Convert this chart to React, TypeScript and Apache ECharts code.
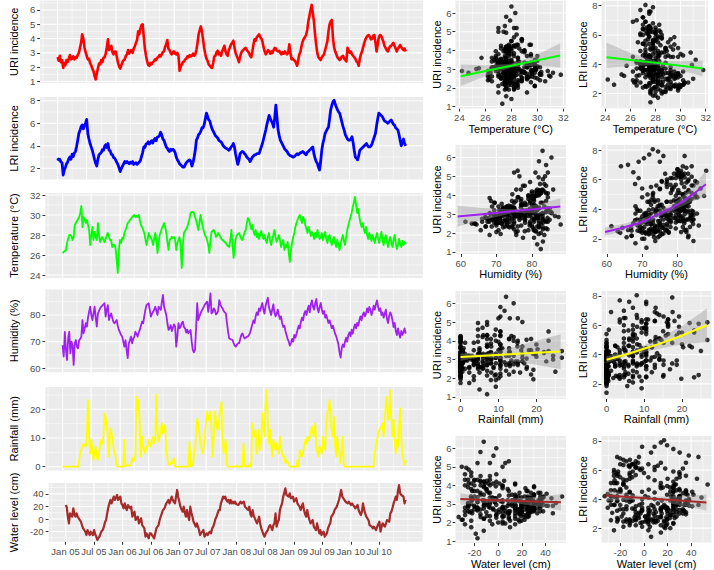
import React, { useEffect, useRef } from "react";
import * as echarts from "echarts";

// ---------------- weekly data, Jan 2005 - Dec 2010 (312 weeks) ----------------
const uriIncidence = [
  2.7, 2.45, 2.8, 2.35, 2.5, 1.95, 2.3, 2.15, 2.5, 2.35, 2.6, 2.85, 2.55,
  2.6, 2.75, 2.55, 2.7, 2.65, 2.85, 3.0, 3.35, 3.7, 4.3, 4.0, 3.4, 3.05,
  2.8, 2.55, 2.6, 2.3, 2.15, 1.9, 1.75, 1.4, 1.15, 1.55, 1.9, 2.25, 2.2,
  2.5, 2.35, 2.65, 2.7, 2.95, 3.4, 3.95, 3.2, 3.35, 3.5, 3.05, 2.9, 3.1,
  3.1, 2.7, 2.3, 2.05, 1.9, 2.15, 2.35, 2.5, 2.55, 2.8, 2.9, 3.2, 2.95,
  3.15, 3.2, 3.0, 3.3, 3.45, 3.7, 3.9, 4.5, 4.3, 4.7, 4.95, 5.0, 4.1,
  3.3, 2.8, 2.4, 2.15, 2.1, 2.3, 2.2, 2.35, 2.4, 2.55, 2.5, 2.65, 2.7,
  2.85, 2.75, 2.9, 3.05, 3.1, 3.4, 3.6, 3.9, 3.3, 3.2, 3.0, 2.9, 3.05,
  3.1, 2.95, 2.9, 3.0, 2.8, 1.75, 2.05, 2.2, 2.35, 2.4, 2.55, 2.6, 2.75,
  2.7, 2.85, 2.75, 2.8, 2.95, 2.8, 2.9, 3.2, 3.7, 4.3, 4.6, 4.85, 4.5,
  3.9, 3.3, 2.9, 2.6, 2.45, 2.2, 2.1, 2.0, 1.95, 2.3, 2.75, 2.8, 3.05,
  3.15, 2.9, 3.0, 2.8, 3.1, 3.3, 3.5, 3.1, 2.9, 2.8, 3.2, 3.4, 3.6,
  3.7, 3.85, 3.4, 3.0, 2.8, 2.6, 2.35, 2.7, 3.0, 3.15, 3.2, 3.3, 3.35,
  3.2, 3.1, 3.0, 2.8, 2.7, 3.1, 3.6, 3.95, 3.85, 4.1, 4.2, 4.3, 4.1,
  4.0, 3.8, 3.4, 3.1, 2.9, 3.05, 3.2, 3.1, 2.95, 3.1, 3.0, 3.2, 3.35,
  3.3, 3.15, 3.1, 3.15, 3.0, 2.9, 3.05, 2.95, 3.1, 3.0, 2.9, 3.0, 3.6,
  3.0, 2.55, 2.6, 2.5, 2.45, 2.3, 2.1, 2.5, 2.9, 3.1, 3.5, 3.8, 4.0,
  4.1, 4.25, 4.6, 5.2, 5.6, 6.0, 6.35, 5.8, 5.2, 4.3, 3.6, 3.0, 2.7,
  2.6, 2.5, 2.7, 2.8, 2.9, 3.2, 3.5, 3.8, 4.5, 5.0, 5.2, 5.3, 4.05,
  3.4, 3.1, 2.9, 2.7, 2.6, 2.5, 2.6, 2.75, 2.8, 2.6, 2.5, 2.4, 3.35,
  3.2, 3.0, 3.1, 2.9, 2.8, 2.7, 2.6, 2.4, 2.35, 2.1, 2.6, 2.9, 3.1,
  3.4, 3.7, 3.95, 4.1, 4.2, 4.25, 4.1, 3.95, 4.0, 4.2, 4.25, 3.7, 3.1,
  3.6, 4.1, 4.25, 4.2, 4.0, 3.8, 3.5, 3.35, 3.2, 3.1, 3.3, 3.45, 3.5,
  3.6, 3.7, 3.5, 3.3, 3.1, 3.3, 3.4, 3.55, 3.4, 3.3, 3.2, 3.3, 3.1,
];

const lriIncidence = [
  2.9, 2.75, 2.8, 2.55, 2.5, 1.4, 1.85, 2.1, 2.4, 2.55, 2.85, 3.0, 2.8,
  3.25, 3.05, 3.35, 3.5, 3.95, 4.5, 5.1, 5.35, 5.7, 5.85, 5.5, 5.75, 6.0,
  6.35, 5.1, 4.6, 4.2, 3.9, 3.6, 3.2, 2.8, 2.45, 2.2, 2.8, 3.2, 3.3,
  3.4, 3.65, 3.6, 3.95, 4.1, 3.85, 4.2, 3.6, 3.55, 3.25, 3.2, 2.95, 2.9,
  2.7, 2.5, 2.3, 2.0, 1.7, 2.0, 2.2, 2.4, 2.6, 2.5, 2.6, 2.5, 2.4,
  2.55, 2.45, 2.6, 2.35, 2.45, 2.5, 2.35, 2.45, 2.55, 2.7, 3.05, 3.4, 3.9,
  3.85, 4.15, 4.2, 4.35, 4.15, 4.3, 4.45, 4.25, 4.5, 4.65, 4.45, 4.75, 4.8,
  4.9, 5.2, 5.0, 4.6, 4.5, 4.2, 3.9, 3.8, 3.6, 3.5, 3.7, 3.6, 3.7,
  3.6, 3.4, 3.0, 2.75, 2.6, 2.4, 2.3, 2.2, 2.1, 2.1, 2.3, 2.5, 2.6,
  2.7, 2.75, 2.6, 2.2, 2.5, 3.0, 3.6, 4.5, 4.7, 5.0, 5.1, 5.3, 5.6,
  5.6, 5.9, 6.4, 6.9, 6.6, 6.3, 6.2, 5.8, 5.5, 5.3, 5.1, 4.9, 4.8,
  4.7, 4.5, 4.4, 4.35, 4.2, 4.0, 3.9, 3.8, 3.75, 3.7, 3.6, 3.7, 3.9,
  4.0, 4.2, 3.9, 3.3, 2.8, 2.35, 2.7, 3.3, 3.4, 3.5, 3.45, 3.3, 3.2,
  3.0, 2.9, 2.8, 2.6, 2.8, 3.0, 3.1, 3.2, 3.2, 3.3, 3.3, 3.3, 3.6,
  3.9, 4.2, 4.6, 5.0, 5.4, 5.9, 6.3, 6.7, 6.4, 6.2, 6.0, 5.65, 6.5,
  7.6, 6.5, 5.4, 4.9, 4.5, 4.3, 4.1, 3.9, 3.7, 3.6, 3.5, 3.3, 3.2,
  3.1, 3.1, 3.0, 3.0, 3.1, 3.2, 3.3, 3.2, 3.3, 3.4, 3.4, 3.5, 3.4,
  3.3, 3.2, 3.4, 3.5, 3.6, 3.7, 3.8, 3.9, 3.3, 2.9, 2.6, 2.45, 2.1,
  1.85, 2.6, 3.6, 4.2, 4.6, 5.1, 5.3, 5.5, 5.65, 6.4, 7.2, 7.6, 7.9,
  8.05, 7.7, 7.45, 7.2, 7.0, 6.9, 6.5, 6.1, 5.7, 5.4, 5.0, 4.8, 4.6,
  4.5, 4.5, 4.6, 4.8, 4.3, 3.6, 3.0, 2.9, 2.75, 3.1, 3.6, 3.7, 3.8,
  3.9, 4.0, 4.1, 4.2, 4.0, 3.9, 3.9, 4.0, 4.2, 4.5, 4.8, 5.1, 5.8,
  6.4, 6.9, 6.8, 6.7, 6.6, 6.4, 6.2, 6.15, 6.1, 6.0, 6.1, 6.2, 6.3,
  6.1, 5.9, 5.85, 5.6, 5.5, 5.4, 5.0, 4.5, 4.0, 4.3, 4.6, 4.2, 4.0,
];

const temperature = [
  26.2, 26.3, 26.4, 26.5, 27.2, 27.6, 28.0, 28.0, 27.9, 27.5, 27.8, 29.0, 29.2,
  29.4, 29.6, 29.8, 30.2, 30.9, 28.8, 29.8, 29.5, 29.2, 29.5, 29.0, 28.5, 27.0,
  28.0, 28.8, 27.5, 28.3, 27.8, 27.5, 29.2, 28.0, 27.3, 27.6, 27.8, 27.5, 27.3,
  27.6, 28.0, 28.2, 27.8, 27.5, 27.5, 26.8, 27.0, 27.0, 26.7, 25.5, 24.2, 26.5,
  27.5, 27.2, 27.7, 27.6, 28.2, 28.5, 28.8, 29.2, 29.3, 29.5, 29.6, 29.8, 29.9,
  30.0, 29.8, 29.9, 29.8, 30.0, 29.5, 29.0, 28.8, 28.5, 28.2, 27.6, 27.0, 27.5,
  28.2, 27.9, 27.7, 27.5, 27.0, 27.6, 28.2, 27.5, 26.2, 27.2, 28.0, 28.3, 28.7,
  28.9, 29.2, 28.8, 28.2, 27.3, 26.5, 27.5, 27.6, 27.8, 27.7, 27.8, 27.5, 26.5,
  27.2, 27.5, 27.8, 26.8, 24.7, 27.0, 28.2, 28.4, 28.6, 28.8, 29.2, 29.6, 30.2,
  30.3, 30.3, 30.2, 29.8, 29.5, 29.0, 28.5, 29.2, 30.0, 29.4, 28.8, 28.4, 28.0,
  27.8, 27.5, 27.0, 26.2, 27.5, 28.3, 28.4, 28.5, 28.2, 27.8, 28.0, 28.2, 28.0,
  27.8, 27.6, 27.5, 27.4, 27.3, 27.2, 27.0, 26.9, 26.8, 27.5, 28.5, 27.0, 25.7,
  26.8, 27.7, 28.0, 28.1, 28.2, 27.9, 27.6, 27.5, 27.9, 28.3, 28.5, 29.2, 29.7,
  29.5, 29.0, 28.6, 29.0, 28.4, 28.0, 28.5, 27.8, 28.2, 27.6, 28.0, 28.4, 27.9,
  27.6, 28.0, 27.5, 27.2, 27.8, 28.2, 27.5, 27.0, 27.6, 28.0, 28.5, 27.8, 27.3,
  27.6, 28.0, 27.5, 26.8, 27.2, 27.5, 26.5, 27.0, 26.8, 27.3, 26.2, 25.3, 26.5,
  27.2, 27.8, 28.2, 28.8, 29.2, 29.5, 29.8, 30.0, 29.6, 29.2, 29.8, 29.5, 29.0,
  28.6, 28.2, 28.8, 28.4, 27.9, 28.3, 28.0, 27.6, 28.2, 27.8, 28.5, 28.0, 27.6,
  27.8, 28.2, 27.5, 27.9, 28.3, 27.6, 27.2, 27.8, 28.0, 27.4, 27.0, 27.5, 27.8,
  27.2, 26.8, 27.5, 27.0, 26.5, 27.2, 27.6, 28.0, 27.4, 27.0, 27.8, 28.5, 29.0,
  29.4, 29.8, 30.2, 30.8, 31.2, 31.8, 31.0, 30.2, 30.6, 29.8, 29.2, 28.8, 29.2,
  28.6, 28.2, 28.8, 28.0, 27.6, 28.2, 27.8, 27.4, 28.0, 27.6, 27.2, 27.8, 28.2,
  27.6, 27.2, 27.8, 28.3, 27.5, 27.0, 27.6, 28.0, 27.3, 26.8, 27.4, 27.8, 27.2,
  26.8, 27.5, 28.0, 27.2, 26.6, 27.0, 27.6, 27.2, 26.8, 27.4, 27.0, 27.3, 27.1,
];

const humidity = [
  68.7, 64.4, 73.7, 67.0, 63.1, 71.2, 73.7, 65.6, 70.0, 68.7, 61.3, 69.4, 70.6,
  68.0, 67.5, 70.6, 71.0, 71.9, 78.1, 73.1, 75.0, 76.9, 75.6, 79.0, 81.2, 83.1,
  80.0, 78.1, 80.6, 83.1, 79.0, 75.6, 80.6, 81.5, 82.5, 83.1, 83.5, 84.0, 84.4,
  79.4, 82.0, 83.7, 78.1, 79.5, 80.6, 79.0, 77.5, 76.9, 77.5, 78.1, 76.0, 74.4,
  73.5, 72.5, 71.9, 70.0, 68.1, 70.6, 67.0, 63.8, 69.4, 70.5, 71.9, 69.4, 71.0,
  71.9, 73.7, 72.8, 71.9, 73.5, 74.4, 76.0, 77.5, 76.9, 79.5, 81.9, 83.7, 84.0,
  84.4, 81.9, 79.4, 80.5, 81.2, 82.0, 83.1, 81.5, 80.0, 83.1, 82.5, 81.9, 85.0,
  87.5, 83.1, 81.5, 80.0, 76.9, 74.4, 75.0, 76.2, 74.0, 75.3, 76.5, 75.6, 68.1,
  72.0, 76.9, 75.0, 75.6, 77.0, 77.5, 75.5, 75.0, 73.4, 74.5, 73.1, 73.8, 74.4,
  70.0, 66.9, 66.0, 67.0, 75.0, 84.4, 78.1, 79.5, 80.6, 81.5, 82.3, 83.1, 84.0,
  84.5, 85.0, 81.2, 84.0, 88.1, 80.6, 81.0, 82.5, 81.9, 80.2, 80.6, 81.6, 85.6,
  84.0, 83.0, 82.5, 81.5, 81.0, 80.6, 77.0, 73.7, 71.2, 71.0, 70.8, 70.6, 69.5,
  68.5, 68.1, 68.8, 69.4, 69.4, 71.0, 72.5, 73.1, 72.0, 71.2, 71.5, 71.9, 71.9,
  72.5, 73.5, 75.0, 76.5, 78.0, 77.0, 79.5, 81.0, 80.0, 82.5, 81.5, 83.0, 84.5,
  82.0, 80.5, 83.5, 85.0, 86.5, 83.0, 81.5, 80.0, 82.0, 84.0, 81.0, 79.5, 80.5,
  82.0, 80.0, 78.5, 79.5, 77.0, 75.5, 76.0, 74.0, 72.5, 71.0, 70.0, 68.5, 69.5,
  71.0, 70.0, 72.5, 71.5, 73.0, 74.5, 76.0, 75.0, 77.5, 79.0, 78.0, 80.5, 81.5,
  80.0, 82.0, 83.5, 81.0, 84.0, 85.5, 83.0, 82.0, 84.5, 86.0, 82.5, 81.0, 83.0,
  84.5, 82.0, 80.5, 81.5, 79.0, 80.0, 78.5, 77.0, 78.0, 76.5, 75.0, 76.0, 74.5,
  73.0, 72.0, 70.5, 69.0, 66.0, 64.0, 67.5, 69.0, 68.0, 70.0, 71.5, 70.0, 72.5,
  73.5, 72.0, 74.5, 73.0, 75.0, 76.5, 75.0, 77.0, 76.0, 78.0, 79.5, 78.0, 80.0,
  81.0, 79.5, 80.5, 82.5, 81.0, 83.0, 82.0, 80.0, 81.5, 83.5, 82.0, 84.0, 85.5,
  83.0, 81.5, 82.5, 80.0, 81.0, 79.0, 80.5, 82.0, 78.5, 77.0, 79.5, 81.0, 80.0,
  78.0, 75.5, 77.0, 74.0, 72.5, 75.0, 73.0, 71.5, 74.0, 72.5, 73.5, 75.0, 73.0,
];

const rainfall = [
  0, 0, 0, 0, 0, 0, 0, 0, 0, 0, 0, 0, 0,
  0, 0, 2.3, 4.6, 6, 7, 8, 7.5, 7, 10.5, 23.2, 10.5, 4.6,
  9.3, 6, 2.3, 5, 7, 3.5, 2.3, 5, 7, 9.3, 8, 10.5, 18.6,
  17.4, 14, 10.5, 3.5, 13.4, 12.8, 10, 7, 5, 3.5, 0.5, 0, 0,
  0, 0, 0, 0, 9.3, 0, 0.5, 0.3, 0.5, 0.4, 0.6, 3, 1.8,
  2.5, 4.6, 24.4, 19.8, 23.2, 15, 3.5, 10.5, 7, 5.8, 4.6, 7, 7,
  9.3, 8, 7, 9, 10.5, 8.1, 9.3, 25, 12, 8.7, 10.5, 13, 15.1,
  11.6, 13, 14.5, 6, 2.9, 0.6, 0.8, 1.2, 1.2, 2, 2.9, 0, 0,
  0, 0, 0, 0, 0, 0, 0, 0, 0, 0, 0.3, 8.7, 0,
  0.3, 0.6, 3.5, 6, 10.5, 16.8, 15.1, 12, 8.1, 6, 4.6, 7, 10.5,
  15, 19.2, 16.3, 17.5, 19.2, 12.8, 3.5, 10, 19.2, 15.7, 14, 12.8, 17.4,
  20, 22.6, 10.5, 4.6, 7, 9.3, 0.6, 0, 0, 0, 0, 0, 0,
  0, 0, 0.5, 0, 0, 0, 0, 0, 8.1, 0.5, 0, 0, 0.5,
  0, 1.2, 0, 15.1, 12, 10.5, 12.8, 4.6, 8, 12.8, 5.8, 9, 18.6,
  14, 10.5, 22, 26.7, 16.3, 8.1, 12.8, 8, 3.5, 9.3, 7, 5.8, 8.1,
  6, 4.6, 10.5, 7, 4.6, 3.5, 3.5, 1.2, 2.3, 1.5, 0.6, 0, 0,
  0, 0, 0, 0, 0, 2.3, 0, 5.8, 4, 3.5, 5, 7, 9.3,
  8, 10.5, 9.3, 10, 11.6, 14, 12, 10.5, 15.1, 7, 5, 3.5, 7,
  5.5, 4.6, 10.5, 8, 5.8, 14, 18.6, 20, 23.2, 16.3, 13, 10.5, 17.4,
  8, 3.5, 10.5, 7, 4.6, 1.2, 5, 10.5, 0.6, 0, 0, 0, 0,
  0, 0, 0, 0, 0, 0, 0, 0, 0, 0, 0, 0, 0,
  0, 0, 0, 0, 0, 0, 0, 0, 0, 0, 4.6, 7, 9.3,
  11, 12.8, 13.4, 14, 15.1, 10.5, 16, 22, 24.4, 16.3, 16.3, 26.7, 18,
  10.5, 16.3, 10, 4.6, 9.3, 7, 13, 20.3, 10.5, 5, 2.3, 0.6, 2.3,
];

const waterLevel = [
  22.3, 19, 3.7, -7, 9, 6, 3.7, 17, 8, 3.7, 9, 4, 1,
  -1.6, -4.3, -10, -14.9, -17.5, -20, -25.5, -17.5, -22, -25.5, -20.2, -23, -25.5,
  -17.5, -24, -28.1, -33.4, -30, -28.1, -22.8, -19, -17.5, -12.2, -5, -1.6, 9,
  18, 24.9, 30.3, 24.9, 30, 35.6, 30.3, 34, 38.2, 30.3, 33, 35.6, 24.9,
  22, 17, 24.9, 18, 14.3, 22.3, 19, 17, 19.6, 3.7, 8, 11.7, -1.6,
  2, 3.7, -7, -3, 1, -9.6, -12, -14.9, -28.1, -22.8, -27, -30.8, -22.8,
  -22.8, -25.5, -28, -30.8, -22.8, -14.9, -12, -9.6, -1.6, 4, 9, 14.3, 16,
  19.6, 24.9, 27, 30.3, 24.9, 30, 35.6, 30.3, 27, 24.9, 35.6, 46.2, 35,
  27.6, 19.6, 15, 11.7, 19.6, 10, 3.7, 14.3, 5, -1.6, 19.6, 10, 3.7,
  -4.3, -8, -12.2, -7, -12, -17.5, -25.5, -22, -20.2, -17.5, -28.1, -25, -22.8,
  -25.5, -22, -20.2, -22.8, -15, -12.2, -7, 0, 3.7, 9, 14.3, 14, 24.9,
  30, 35.6, 33, 35.6, 30.3, 27.6, 30.3, 24.9, 30.3, 24.9, 27.6, 25, 27.6,
  24, 23, 22.3, 25, 27.6, 24.9, 26, 27.6, 19.6, 18, 16, 14.3, 19.6,
  8, 3.7, 14.3, 6, 1, -3, -7, -2, 3.7, -8, -14.9, -20.2, -25,
  -28.1, -22.8, -20, -17.5, -12.2, -9.6, -13, -17.5, -10, -7, 9, -12.2, -5,
  -1.6, 14.3, 20, 24.9, 35.6, 42, 48.8, 38.2, 37, 35.6, 40.9, 33, 34,
  35.6, 27.6, 30, 33, 24.9, 22, 19.6, 14.3, 20, 24.9, 14.3, 8, 3.7,
  14.3, 5, -1.6, -7, -4, -1.6, -12.2, -15, -17.5, -7, -15, -22.8, -17.5,
  -25.5, -22, -20.2, -28.1, -25, -22.8, -14.9, -10, -7, 3.7, 6, 9, 14.3,
  17, 19.6, 24.9, 30.3, 38, 46.2, 35.6, 33, 30.3, 27.6, 26, 24.9, 27.6,
  25, 22.3, 24.9, 22, 19.6, 17, 20, 22.3, 14.3, 10, 6.3, 11.7, 24.9,
  15, 9, 3.7, 1, -1.6, -9.6, -11, -12.2, -14.9, -12.2, -15, -17.5, -12.2,
  -8, -4.3, -20.2, -12, -7, -10, -12.2, -7, -1.6, -3, -4.3, 9, 11.7,
  18, 24.9, 30, 35.6, 30.3, 45, 54, 40.9, 38.2, 37, 35.6, 24.9, 30.3,
];

// ---------------- tick labels & axis ranges ----------------
const dateTickLabels = ["Jan 05", "Jul 05", "Jan 06", "Jul 06", "Jan 07", "Jul 07", "Jan 08", "Jul 08", "Jan 09", "Jul 09", "Jan 10", "Jul 10"];
const uriTicks = [1, 2, 3, 4, 5, 6];
const lriTicks = [2, 4, 6, 8];
const tempTicks = [24, 26, 28, 30, 32];
const humTicks = [60, 70, 80];
const rainTicks = [0, 10, 20];
const waterTicks = [-20, 0, 20, 40];

const uriRange = [0.89, 6.66];
const lriRange = [0.97, 8.34];
const tempRange = [23.7, 32.2];
const humRange = [58.5, 89.6];
const rainRange = [-1.33, 27.8];
const waterRange = [-36.1, 57.3];

// ---------------- fitted curves with 95% bands ----------------
const fitTempX = [24.1, 26, 28, 30, 31.75];
const fitUriTempY = [2.62, 2.9, 3.18, 3.47, 3.73];
const fitUriTempLo = [2.1, 2.61, 3.08, 3.19, 3.08];
const fitUriTempHi = [3.25, 3.2, 3.28, 3.78, 4.38];
const fitLriTempY = [4.48, 4.29, 4.09, 3.89, 3.71];
const fitLriTempLo = [3.75, 3.87, 3.94, 3.59, 3.18];
const fitLriTempHi = [5.46, 4.76, 4.24, 4.2, 4.25];

const fitUriHumX = [59.1, 66, 75, 82, 88];
const fitUriHumY = [2.875, 3.0, 3.165, 3.29, 3.4];
const fitUriHumLo = [2.35, 2.68, 3.075, 3.04, 2.97];
const fitUriHumHi = [3.45, 3.32, 3.255, 3.54, 3.84];
const fitLriHumX = [59.5, 65, 70, 75, 80, 84, 88];
const fitLriHumY = [2.46, 2.78, 3.15, 3.7, 4.31, 4.95, 5.69];
const fitLriHumLo = [2.2, 2.55, 2.95, 3.52, 4.05, 4.5, 4.88];
const fitLriHumHi = [2.76, 3.03, 3.35, 3.88, 4.6, 5.42, 6.6];

const fitUriRainX = [0, 6, 13, 20, 26.4];
const fitUriRainY = [3.13, 3.2, 3.28, 3.36, 3.43];
const fitUriRainLo = [2.93, 3.13, 2.95, 2.72, 2.48];
const fitUriRainHi = [3.33, 3.27, 3.61, 4.0, 4.35];
const fitLriRainX = [0, 6, 13, 20, 26.6];
const fitLriRainY = [3.65, 4.08, 4.65, 5.3, 6.0];
const fitLriRainLo = [3.42, 3.96, 4.35, 4.7, 4.86];
const fitLriRainHi = [3.88, 4.2, 4.98, 5.95, 7.15];

const fitWaterX = [-32, -10, 5, 30, 53];
const fitUriWaterY = [3.26, 3.216, 3.186, 3.136, 3.09];
const fitUriWaterLo = [2.94, 3.06, 3.106, 2.9, 2.65];
const fitUriWaterHi = [3.58, 3.37, 3.266, 3.37, 3.53];
const fitLriWaterY = [4.24, 4.12, 4.035, 3.9, 3.77];
const fitLriWaterLo = [3.87, 3.94, 3.915, 3.6, 3.22];
const fitLriWaterHi = [4.6, 4.3, 4.155, 4.2, 4.32];

// ---------------- styling ----------------
const FONT = "'Liberation Sans', Arial, Helvetica, sans-serif";
const PANEL_BG = "#EBEBEB";
const DAY_MS = 86400000;
const START = Date.UTC(2005, 0, 1);
const weekDays = uriIncidence.map((_, i) => i * 7);
const dateTickDays = dateTickLabels.map((_, i) => (Date.UTC(2005 + Math.floor(i / 2), (i % 2) * 6, 1) - START) / DAY_MS);
const dayBefore = (Date.UTC(2004, 6, 1) - START) / DAY_MS;
const dayAfter = (Date.UTC(2011, 0, 1) - START) / DAY_MS;
const DATA_END_DAY = weekDays[weekDays.length - 1];
const X_MIN = -0.05 * DATA_END_DAY;
const X_MAX = DATA_END_DAY * 1.05;

function labelForDay(v: number) {
  let best = 0;
  for (let i = 1; i < dateTickDays.length; i++) {
    if (Math.abs(dateTickDays[i] - v) < Math.abs(dateTickDays[best] - v)) best = i;
  }
  return dateTickLabels[best];
}

function minorBreaks(major: number[], lo: number, hi: number, before?: number, after?: number) {
  const step = major[1] - major[0];
  const b = before !== undefined ? before : major[0] - step;
  const a = after !== undefined ? after : major[major.length - 1] + step;
  const ext = [b, ...major, a];
  const out: number[] = [];
  for (let i = 0; i < ext.length - 1; i++) out.push((ext[i] + ext[i + 1]) / 2);
  out.push(b, a);
  return out.filter((v) => v > lo && v < hi);
}

function gridLinesSeries(gi: number, xMajor: number[], xMinor: number[], yMajor: number[], yMinor: number[], xRef: number, yRef: number) {
  const items: number[][] = [];
  xMinor.forEach((v) => items.push([v, yRef, 0, 0]));
  yMinor.forEach((v) => items.push([xRef, v, 1, 0]));
  xMajor.forEach((v) => items.push([v, yRef, 0, 1]));
  yMajor.forEach((v) => items.push([xRef, v, 1, 1]));
  return {
    type: "custom",
    xAxisIndex: gi,
    yAxisIndex: gi,
    z: 1,
    silent: true,
    data: items,
    renderItem: (params: any, api: any) => {
      const cs = params.coordSys;
      const orient = api.value(2);
      const major = api.value(3);
      const lw = major ? 1.07 : 0.53;
      if (orient === 0) {
        const x = api.coord([api.value(0), yRef])[0];
        return { type: "line", shape: { x1: x, y1: cs.y, x2: x, y2: cs.y + cs.height }, style: { stroke: "#FFFFFF", lineWidth: lw } };
      }
      const y = api.coord([xRef, api.value(1)])[1];
      return { type: "line", shape: { x1: cs.x, y1: y, x2: cs.x + cs.width, y2: y }, style: { stroke: "#FFFFFF", lineWidth: lw } };
    },
  };
}

function bandSeries(gi: number, fx: number[], lo: number[], hi: number[]) {
  return {
    type: "custom",
    xAxisIndex: gi,
    yAxisIndex: gi,
    z: 4,
    silent: true,
    data: [[fx[0], lo[0]]],
    renderItem: (_params: any, api: any) => {
      const pts: number[][] = [];
      for (let k = 0; k < fx.length; k++) pts.push(api.coord([fx[k], hi[k]]));
      for (let k = fx.length - 1; k >= 0; k--) pts.push(api.coord([fx[k], lo[k]]));
      return { type: "polygon", shape: { points: pts }, style: { fill: "rgba(153,153,153,0.4)" } };
    },
  };
}

function buildOption() {
  const grid: any[] = [];
  const xAxis: any[] = [];
  const yAxis: any[] = [];
  const series: any[] = [];
  const labelBase = { fontSize: 9.5, color: "#4D4D4D", fontFamily: FONT };
  const nameStyle = { fontSize: 11, color: "#000000", fontFamily: FONT };
  const tick = (vals: number[], show: boolean) => ({ show, length: 3, customValues: vals, lineStyle: { color: "#333333", width: 1 } });
  const noLine = { show: false, onZero: false };

  // ---- left column: time series ----
  const DATA_END_PX = 404.9;
  const tsPanels = [
    { data: uriIncidence, color: "#FF0000", width: 2.6, name: "URI incidence", range: uriRange, ticks: uriTicks, top: 0.5, bottom: 83.1, start: 40.5 },
    { data: lriIncidence, color: "#0000FF", width: 2.8, name: "LRI incidence", range: lriRange, ticks: lriTicks, top: 96.9, bottom: 179.9, start: 40.5 },
    { data: temperature, color: "#00FF00", width: 1.8, name: "Temperature (°C)", range: tempRange, ticks: tempTicks, top: 193, bottom: 278, start: 45.7 },
    { data: humidity, color: "#A020F0", width: 1.8, name: "Humidity (%)", range: humRange, ticks: humTicks, top: 289.4, bottom: 372.3, start: 45.7 },
    { data: rainfall, color: "#FFFF00", width: 1.8, name: "Rainfall (mm)", range: rainRange, ticks: rainTicks, top: 386.9, bottom: 470.5, start: 46 },
    { data: waterLevel, color: "#A52A2A", width: 2.2, name: "Water level (cm)", range: waterRange, ticks: waterTicks, top: 483, bottom: 541.7, start: 50 },
  ];
  const xMinorDays = minorBreaks(dateTickDays, X_MIN, X_MAX, dayBefore, dayAfter);

  tsPanels.forEach((p, idx) => {
    const gi = grid.length;
    const span = DATA_END_PX - p.start;
    const left = p.start - 0.05 * span;
    const isLast = idx === tsPanels.length - 1;
    grid.push({ left, top: p.top, width: 1.1 * span, height: p.bottom - p.top, show: true, backgroundColor: PANEL_BG, borderWidth: 0, containLabel: false });
    xAxis.push({
      type: "value", gridIndex: gi, min: X_MIN, max: X_MAX, position: "bottom",
      axisLine: noLine, splitLine: { show: false }, minorSplitLine: { show: false },
      axisTick: tick(dateTickDays, isLast),
      axisLabel: { ...labelBase, show: isLast, customValues: dateTickDays, margin: 5, hideOverlap: false, formatter: (v: number) => labelForDay(v) },
    });
    yAxis.push({
      type: "value", gridIndex: gi, min: p.range[0], max: p.range[1], position: "left",
      axisLine: noLine, splitLine: { show: false },
      axisTick: tick(p.ticks, true),
      axisLabel: { ...labelBase, customValues: p.ticks, margin: 5 },
      name: p.name, nameLocation: "middle", nameGap: left - 11.5, nameTextStyle: nameStyle,
    });
    const yMinor = minorBreaks(p.ticks, p.range[0], p.range[1]);
    series.push(gridLinesSeries(gi, dateTickDays, xMinorDays, p.ticks, yMinor, 1000, (p.range[0] + p.range[1]) / 2));
    series.push({
      type: "line", xAxisIndex: gi, yAxisIndex: gi, z: 3, silent: true,
      data: p.data.map((v, i) => [weekDays[i], v]),
      showSymbol: false, symbol: "none",
      lineStyle: { color: p.color, width: p.width, join: "round" },
    });
  });

  // ---- right columns: scatter plots ----
  const scatterCols = [
    { y: uriIncidence, range: uriRange, ticks: uriTicks, name: "URI incidence", left: 455.5, right: 566, nameGap: 11.5 },
    { y: lriIncidence, range: lriRange, ticks: lriTicks, name: "LRI incidence", left: 601.5, right: 711.5, nameGap: 12.5 },
  ];
  const scatterRows = [
    { x: temperature, range: tempRange, ticks: tempTicks, name: "Temperature (°C)", top: 0.7, bottom: 108.5, color: "#00FF00",
      fits: [
        { x: fitTempX, y: fitUriTempY, lo: fitUriTempLo, hi: fitUriTempHi },
        { x: fitTempX, y: fitLriTempY, lo: fitLriTempLo, hi: fitLriTempHi },
      ] },
    { x: humidity, range: humRange, ticks: humTicks, name: "Humidity (%)", top: 145, bottom: 254, color: "#A020F0",
      fits: [
        { x: fitUriHumX, y: fitUriHumY, lo: fitUriHumLo, hi: fitUriHumHi },
        { x: fitLriHumX, y: fitLriHumY, lo: fitLriHumLo, hi: fitLriHumHi },
      ] },
    { x: rainfall, range: rainRange, ticks: rainTicks, name: "Rainfall (mm)", top: 291, bottom: 399, color: "#FFFF00",
      fits: [
        { x: fitUriRainX, y: fitUriRainY, lo: fitUriRainLo, hi: fitUriRainHi },
        { x: fitLriRainX, y: fitLriRainY, lo: fitLriRainLo, hi: fitLriRainHi },
      ] },
    { x: waterLevel, range: waterRange, ticks: waterTicks, name: "Water level (cm)", top: 436, bottom: 544, color: "#A52A2A",
      fits: [
        { x: fitWaterX, y: fitUriWaterY, lo: fitUriWaterLo, hi: fitUriWaterHi },
        { x: fitWaterX, y: fitLriWaterY, lo: fitLriWaterLo, hi: fitLriWaterHi },
      ] },
  ];

  scatterRows.forEach((r) => {
    scatterCols.forEach((c, ci) => {
      const gi = grid.length;
      grid.push({ left: c.left, top: r.top, width: c.right - c.left, height: r.bottom - r.top, show: true, backgroundColor: PANEL_BG, borderWidth: 0, containLabel: false });
      xAxis.push({
        type: "value", gridIndex: gi, min: r.range[0], max: r.range[1], position: "bottom",
        axisLine: noLine, splitLine: { show: false },
        axisTick: tick(r.ticks, true),
        axisLabel: { ...labelBase, customValues: r.ticks, margin: 4 },
        name: r.name, nameLocation: "middle", nameGap: 12.5, nameTextStyle: nameStyle,
      });
      yAxis.push({
        type: "value", gridIndex: gi, min: c.range[0], max: c.range[1], position: "left",
        axisLine: noLine, splitLine: { show: false },
        axisTick: tick(c.ticks, true),
        axisLabel: { ...labelBase, customValues: c.ticks, margin: 4 },
        name: c.name, nameLocation: "middle", nameGap: c.nameGap, nameTextStyle: nameStyle,
      });
      series.push(gridLinesSeries(gi, r.ticks, minorBreaks(r.ticks, r.range[0], r.range[1]), c.ticks, minorBreaks(c.ticks, c.range[0], c.range[1]),
        (r.range[0] + r.range[1]) / 2, (c.range[0] + c.range[1]) / 2));
      series.push({
        type: "scatter", xAxisIndex: gi, yAxisIndex: gi, z: 2, silent: true,
        data: r.x.map((xv, i) => [xv, c.y[i]]),
        symbol: "circle", symbolSize: 4.6,
        itemStyle: { color: "#000000", borderWidth: 0 },
      });
      const f = r.fits[ci];
      series.push(bandSeries(gi, f.x, f.lo, f.hi));
      series.push({
        type: "line", xAxisIndex: gi, yAxisIndex: gi, z: 5, silent: true,
        data: f.x.map((xv, k) => [xv, f.y[k]]),
        showSymbol: false, symbol: "none", smooth: f.x.length > 5 ? 0.3 : false,
        lineStyle: { color: r.color, width: 2 },
      });
    });
  });

  return {
    animation: false,
    backgroundColor: "#FFFFFF",
    textStyle: { fontFamily: FONT },
    grid, xAxis, yAxis, series,
  };
}

export default function App() {
  const ref = useRef<HTMLDivElement>(null);
  useEffect(() => {
    if (!ref.current) return;
    const chart = echarts.init(ref.current, undefined, { renderer: "svg", width: 714, height: 570 });
    chart.setOption(buildOption() as any);
    return () => chart.dispose();
  }, []);
  return <div ref={ref} style={{ position: "fixed", left: 0, top: 0, width: 714, height: 570 }} />;
}
